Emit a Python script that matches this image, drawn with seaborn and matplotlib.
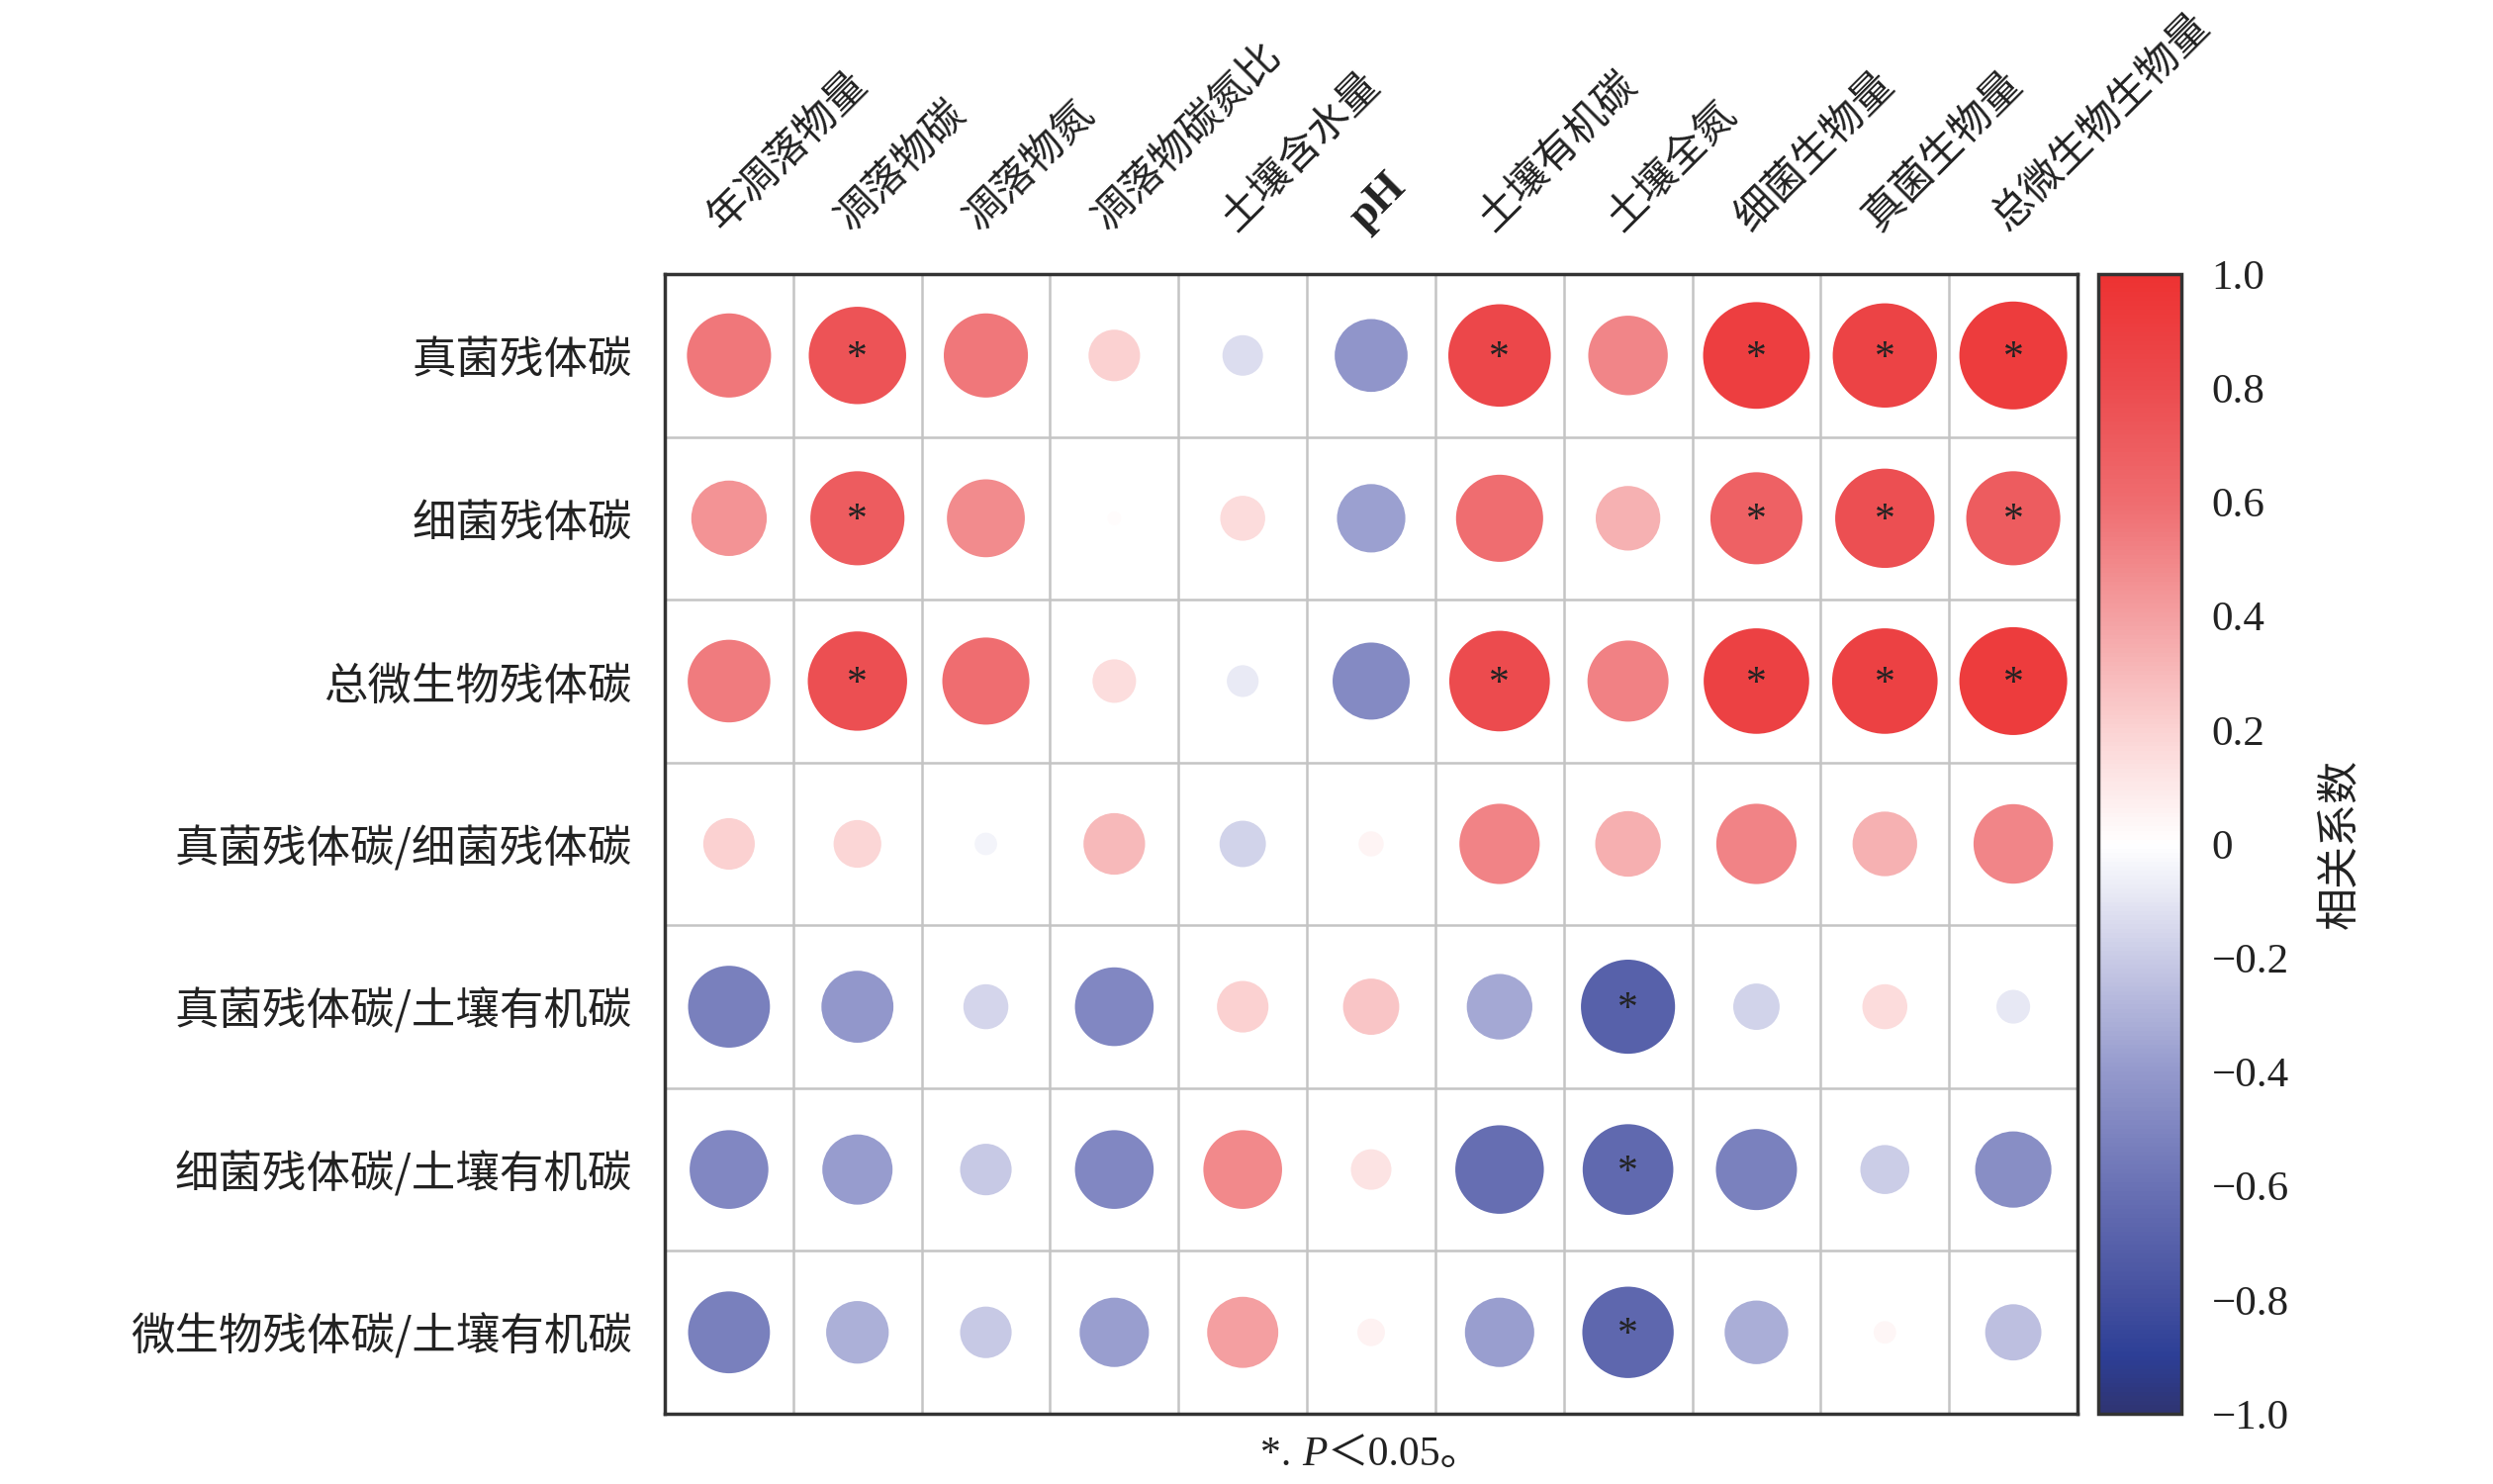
import numpy as np
import pandas as pd
import matplotlib
matplotlib.use("Agg")
import matplotlib.pyplot as plt
from matplotlib.colors import LinearSegmentedColormap, Normalize
from matplotlib.cm import ScalarMappable
import seaborn as sns

# 行：残体碳指标；列：环境/生物因子
row_labels = ["真菌残体碳", "细菌残体碳", "总微生物残体碳", "真菌残体碳/细菌残体碳",
              "真菌残体碳/土壤有机碳", "细菌残体碳/土壤有机碳", "微生物残体碳/土壤有机碳"]
col_labels = ["年凋落物量", "凋落物碳", "凋落物氮", "凋落物碳氮比", "土壤含水量", "pH",
              "土壤有机碳", "土壤全氮", "细菌生物量", "真菌生物量", "总微生物生物量"]

r_fungal = [0.56, 0.75, 0.56, 0.21, -0.13, -0.42, 0.83, 0.50, 0.90, 0.86, 0.92]
r_bacterial = [0.45, 0.70, 0.48, 0.015, 0.16, -0.37, 0.60, 0.33, 0.67, 0.78, 0.70]
r_total = [0.54, 0.78, 0.60, 0.15, -0.08, -0.47, 0.80, 0.52, 0.88, 0.88, 0.92]
r_f_b = [0.21, 0.18, -0.04, 0.30, -0.17, 0.05, 0.51, 0.34, 0.51, 0.33, 0.50]
r_f_soc = [-0.53, -0.41, -0.16, -0.49, 0.21, 0.25, -0.34, -0.70, -0.17, 0.16, -0.09]
r_b_soc = [-0.49, -0.39, -0.21, -0.49, 0.49, 0.13, -0.62, -0.65, -0.52, -0.19, -0.46]
r_m_soc = [-0.53, -0.31, -0.21, -0.38, 0.40, 0.06, -0.38, -0.66, -0.32, 0.04, -0.25]
r_rows = [r_fungal, r_bacterial, r_total, r_f_b, r_f_soc, r_b_soc, r_m_soc]

# 显著 (P<0.05) 的位置: (行, 列)
sig_cells = [(0, 1), (0, 6), (0, 8), (0, 9), (0, 10),
             (1, 1), (1, 8), (1, 9), (1, 10),
             (2, 1), (2, 6), (2, 8), (2, 9), (2, 10),
             (4, 7), (5, 7), (6, 7)]

cbar_ticks = [1.0, 0.8, 0.6, 0.4, 0.2, 0, -0.2, -0.4, -0.6, -0.8, -1.0]
cbar_ticklabels = ["1.0", "0.8", "0.6", "0.4", "0.2", "0", "\u22120.2", "\u22120.4",
                   "\u22120.6", "\u22120.8", "\u22121.0"]

sns.set_theme(style="white")
plt.rcParams['font.family'] = ['Noto Sans CJK SC', 'DejaVu Sans']

cmap = LinearSegmentedColormap.from_list("corr", [
    (0.00, "#2f3472"), (0.05, "#2d3f96"), (0.10, "#44509f"), (0.20, "#6a72b5"),
    (0.30, "#9499cc"), (0.40, "#c9cbe6"), (0.50, "#ffffff"), (0.60, "#fbd3d3"),
    (0.70, "#f4a0a2"), (0.80, "#ef6d70"), (0.90, "#ec4c4f"), (1.00, "#ed3232")])

records = []
for i, vals in enumerate(r_rows):
    for j, v in enumerate(vals):
        records.append({"row": i, "col": j, "r": v, "absr": abs(v)})
df = pd.DataFrame(records)

fig = plt.figure(figsize=(25.2, 15), dpi=100)
ax = fig.add_axes([672 / 2520, 1 - 1429 / 1500, 1428 / 2520, 1152 / 1500])

sns.scatterplot(data=df, x="col", y="row", hue="r", palette=cmap, hue_norm=(-1, 1),
                size="absr", sizes=(0, 6700), size_norm=(0, 1), linewidth=0,
                legend=False, ax=ax, zorder=3)

for (i, j) in sig_cells:
    ax.text(j, i + 0.02, "*", ha="center", va="center", fontsize=30,
            color="#222222", family="Liberation Serif", zorder=4)

ax.set_xlim(-0.5, len(col_labels) - 0.5)
ax.set_ylim(len(row_labels) - 0.5, -0.5)
ax.set_xticks(np.arange(len(col_labels)) + 0.5, minor=True)
ax.set_yticks(np.arange(len(row_labels)) + 0.5, minor=True)
ax.grid(which="minor", color="#c4c4c4", linewidth=1.8)
ax.tick_params(which="both", length=0)
ax.set_xlabel("")
ax.set_ylabel("")

ax.set_yticks(np.arange(len(row_labels)))
ax.set_yticklabels(row_labels, fontsize=32, color="#222222")
ax.tick_params(axis="y", pad=24)

ax.xaxis.tick_top()
ax.set_xticks(np.arange(len(col_labels)))
ax.set_xticklabels(col_labels, fontsize=30, color="#222222", rotation=45,
                   ha="left", va="bottom", rotation_mode="anchor")
ax.tick_params(axis="x", pad=26)
for lab in ax.get_xticklabels():
    if lab.get_text() == "pH":
        lab.set_family("Liberation Serif")
        lab.set_fontweight("bold")
        lab.set_fontsize(33)

for sp in ax.spines.values():
    sp.set_visible(True)
    sp.set_color("#333333")
    sp.set_linewidth(2.5)

# 色条
cax = fig.add_axes([2121 / 2520, 1 - 1429 / 1500, 84 / 2520, 1152 / 1500])
sm = ScalarMappable(norm=Normalize(-1, 1), cmap=cmap)
cb = fig.colorbar(sm, cax=cax)
cb.set_ticks(cbar_ticks)
cb.set_ticklabels(cbar_ticklabels)
cb.outline.set_edgecolor("#333333")
cb.outline.set_linewidth(2.5)
cax.tick_params(direction="in", length=12, width=2, color="#333333", labelsize=31,
                labelcolor="#222222", pad=22)
for lab in cax.get_yticklabels():
    lab.set_family("Liberation Serif")
cb.set_label("相关系数", fontsize=31, color="#222222", labelpad=22)

# 脚注: *. P＜0.05。 (P 为斜体)
renderer = fig.canvas.get_renderer()
pieces = [("*. ", "normal", ["Liberation Serif"]),
          ("P", "italic", ["Liberation Serif"]),
          ("\uff1c0.05\u3002", "normal", ["Liberation Serif", "Noto Sans CJK SC"])]
widths = []
for txt, style, fam in pieces:
    t = fig.text(0, 0, txt, fontsize=30, style=style, family=fam)
    widths.append(t.get_window_extent(renderer).width)
    t.remove()
x0 = 1386 - sum(widths) / 2
y0 = 1500 - 1471
for (txt, style, fam), w in zip(pieces, widths):
    fig.text(x0 / 2520, y0 / 1500, txt, fontsize=30, style=style, family=fam,
             color="#222222", ha="left", va="center")
    x0 += w

fig.savefig("out.png", dpi=100)
